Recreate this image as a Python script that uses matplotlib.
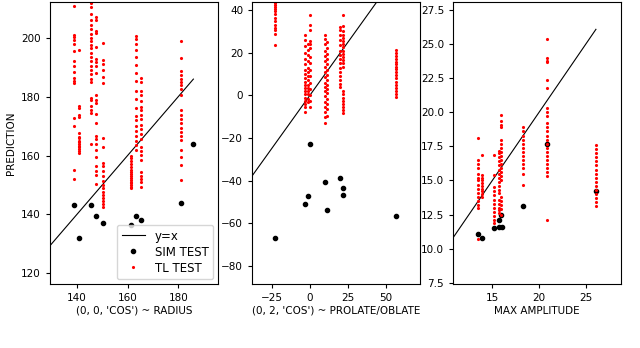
import matplotlib
matplotlib.use("Agg")
import matplotlib.pyplot as plt

# --- panel 1: (0, 0, 'COS') ~ RADIUS
radius_true = [139.0, 140.7, 145.4, 147.4, 150.2, 161.2, 163.2, 165.2, 181.2, 186.0]
radius_sim = [143.3, 132.0, 143.0, 139.5, 137.2, 136.3, 139.5, 137.9, 144.0, 164.0]
radius_tl = [
    [210.8, 201.0, 200.2, 199.4, 198.0, 195.4, 192.0, 190.6, 188.3, 186.4, 185.3, 184.6, 172.7, 170.0, 155.2, 152.0],
    [195.8, 176.7, 176.2, 173.9, 173.0, 167.6, 166.4, 165.8, 165.0, 164.5, 164.0, 163.4, 162.8, 162.2, 161.6, 160.9],
    [212.0, 210.5, 208.0, 206.0, 204.5, 203.0, 201.5, 200.0, 198.8, 197.6, 196.5, 195.0, 193.5, 192.0, 190.6,
     189.0, 187.7, 186.0, 185.0, 179.5, 178.8, 177.0, 175.5, 174.4, 164.0],
    [207.2, 206.2, 202.5, 201.7, 197.0, 193.0, 191.8, 190.5, 188.2, 180.6, 179.0, 177.8, 174.2, 171.0, 166.8,
     165.5, 163.8, 162.0, 159.6, 156.5, 154.8, 153.5, 150.2],
    [198.3, 192.6, 191.0, 189.0, 186.8, 184.6, 165.9, 163.0, 157.4, 156.5, 154.8, 153.0, 151.5, 150.0, 148.8,
     147.5, 146.5, 145.5, 144.6, 143.5, 142.5],
    [160.0, 159.0, 158.0, 157.0, 156.0, 155.2, 154.5, 153.8, 153.0, 152.4, 151.8, 151.0, 150.5, 149.9, 149.3, 148.8],
    [200.6, 199.5, 198.0, 196.0, 193.5, 190.8, 188.0, 185.5, 182.0, 179.2, 176.0, 173.5, 172.0, 170.0, 168.5,
     166.5, 165.0, 163.5, 162.0],
    [186.3, 185.0, 182.0, 180.6, 178.6, 176.5, 175.5, 173.8, 172.4, 170.5, 169.0, 167.2, 165.5, 163.0, 161.5,
     160.2, 158.5, 154.5, 153.2, 152.0, 151.0, 149.4],
    [198.9, 193.2, 188.6, 187.4, 186.0, 185.0, 184.0, 182.8, 180.6, 175.5, 173.8, 172.5, 171.0, 169.5, 168.0,
     166.5, 165.3, 161.9, 159.6, 156.8, 151.6],
    [],
]

# --- panel 2: (0, 2, 'COS') ~ PROLATE/OBLATE
shape_true = [-22.6, -3.3, -1.1, 0.0, 9.9, 11.0, 19.5, 22.0, 22.0, 56.6]
shape_sim = [-66.9, -50.9, -47.0, -22.7, -40.6, -53.6, -38.9, -43.4, -46.9, -56.6]
shape_tl = [
    [43.5, 42.5, 41.5, 40.5, 39.5, 38.0, 36.5, 35.0, 33.0, 31.5, 30.5, 29.0, 23.6],
    [28.3, 26.0, 23.0, 20.0, 17.0, 14.5, 12.0, 10.0, 8.0, 6.5, 5.0, 3.5, 2.0, 0.5, -1.0, -2.5, -4.0, -5.5, -7.7],
    [24.0, 21.5, 19.0, 16.0, 13.0, 11.0, 9.0, 7.0, 5.0, 3.5, 2.0, 0.5, -1.5, -3.0],
    [37.7, 33.0, 30.5, 25.5, 24.0, 22.0, 18.0, 15.0, 12.0, 9.0, 6.0, 3.0, 0.0, -2.5, -5.3],
    [28.3, 26.5, 24.0, 21.0, 18.5, 16.0, 13.5, 11.0, 8.5, 6.0, 4.0, 2.0, -0.5, -3.0, -5.5, -8.0, -10.0, -13.1],
    [25.0, 22.0, 19.5, 17.0, 14.5, 12.0, 9.5, 7.0, 5.0, 3.0, 1.0, -1.5, -4.0, -6.5, -9.5],
    [32.0, 30.5, 28.5, 26.0, 23.5, 21.0, 19.0, 17.0, 15.0, 13.0, 11.0, 9.0, 7.0, 5.5, 4.0],
    [37.7, 32.5, 30.0, 28.5, 27.0, 25.5, 24.0, 22.5, 21.0, 19.5, 18.0, 16.5, 15.0, 13.5, 2.0, 0.5, -1.0, -2.5,
     -4.0, -5.5, -7.0, -8.4],
    [],
    [21.25, 20.0, 18.5, 17.0, 15.5, 14.5, 13.5, 12.5, 11.0, 9.5, 8.0, 6.5, 5.0, 3.5, 2.0, 0.5, -0.6],
]

# --- panel 3: MAX AMPLITUDE
amp_true = [13.43, 13.85, 15.14, 15.71, 15.71, 16.07, 15.96, 18.32, 20.86, 26.1]
amp_sim = [11.05, 10.78, 11.53, 12.07, 11.6, 11.6, 12.46, 13.12, 17.7, 14.25]
amp_tl = [
    [18.1, 16.5, 16.2, 15.9, 15.5, 15.2, 15.0, 14.7, 14.4, 14.1, 13.8, 13.5, 13.2, 13.0, 10.7],
    [16.9, 15.4, 15.2, 15.0, 14.8, 14.6, 14.4, 14.2, 14.0, 13.8],
    [16.9, 15.4, 14.5, 14.2, 13.9, 13.6, 13.3, 13.0, 12.7, 12.4, 12.1, 11.85],
    [17.2, 17.0, 16.7, 16.4, 16.1, 15.8, 15.5, 15.2, 14.9, 14.6, 14.3, 14.05, 13.56, 13.3, 13.0, 12.8, 12.6],
    [],
    [],
    [19.8, 19.4, 19.1, 18.9, 17.96, 17.7, 17.4, 17.1, 16.8, 16.5, 16.2, 15.9, 15.6, 15.3, 15.0, 13.8, 13.5,
     13.2, 12.9, 12.5],
    [18.9, 18.6, 18.3, 18.0, 17.7, 17.4, 17.1, 16.8, 16.5, 16.2, 15.9, 15.5, 14.7],
    [25.4, 24.0, 23.8, 23.7, 22.4, 21.8, 20.3, 20.0, 19.7, 19.2, 18.9, 18.6, 18.3, 18.0, 17.7, 17.4, 17.1,
     16.8, 16.5, 16.2, 15.9, 15.6, 15.3, 12.1],
    [17.6, 17.3, 17.0, 16.7, 16.4, 16.1, 15.8, 15.5, 15.2, 14.9, 14.6, 14.3, 14.0, 13.7, 13.4, 13.1],
]

panels = [
    (radius_true, radius_sim, radius_tl, "(0, 0, 'COS') ~ RADIUS", (129.3, 195.7), (116.3, 212.2)),
    (shape_true, shape_sim, shape_tl, "(0, 2, 'COS') ~ PROLATE/OBLATE", (-37.7, 72.2), (-88.4, 43.75)),
    (amp_true, amp_sim, amp_tl, "MAX AMPLITUDE", (10.8, 28.8), (7.4, 28.1)),
]

plt.rcParams['font.size'] = 7.5
plt.rcParams['xtick.major.size'] = 3
plt.rcParams['ytick.major.size'] = 3

fig = plt.figure(figsize=(6.4, 3.48), dpi=100)
lefts = [0.078, 0.394, 0.708]

for i, (xt, ys, tl, xlabel, xlim, ylim) in enumerate(panels):
    ax = fig.add_axes([lefts[i], 0.184, 0.2625, 0.81])
    ax.plot([xlim[0], max(xt)], [xlim[0], max(xt)], color='black', lw=0.8, label='y=x')
    ax.plot(xt, ys, 'k.', markersize=6, label='SIM TEST')
    tx = [x for x, col in zip(xt, tl) for _ in col]
    ty = [v for col in tl for v in col]
    ax.plot(tx, ty, 'r.', markersize=2.5, label='TL TEST')
    ax.set_xlim(*xlim)
    ax.set_ylim(*ylim)
    ax.set_xlabel(xlabel, labelpad=2)
    if i == 0:
        ax.set_ylabel('PREDICTION')
        ax.legend(loc='lower right', fontsize=8.5, labelspacing=0.25, borderaxespad=0.4)

fig.savefig('out.png', dpi=100)
